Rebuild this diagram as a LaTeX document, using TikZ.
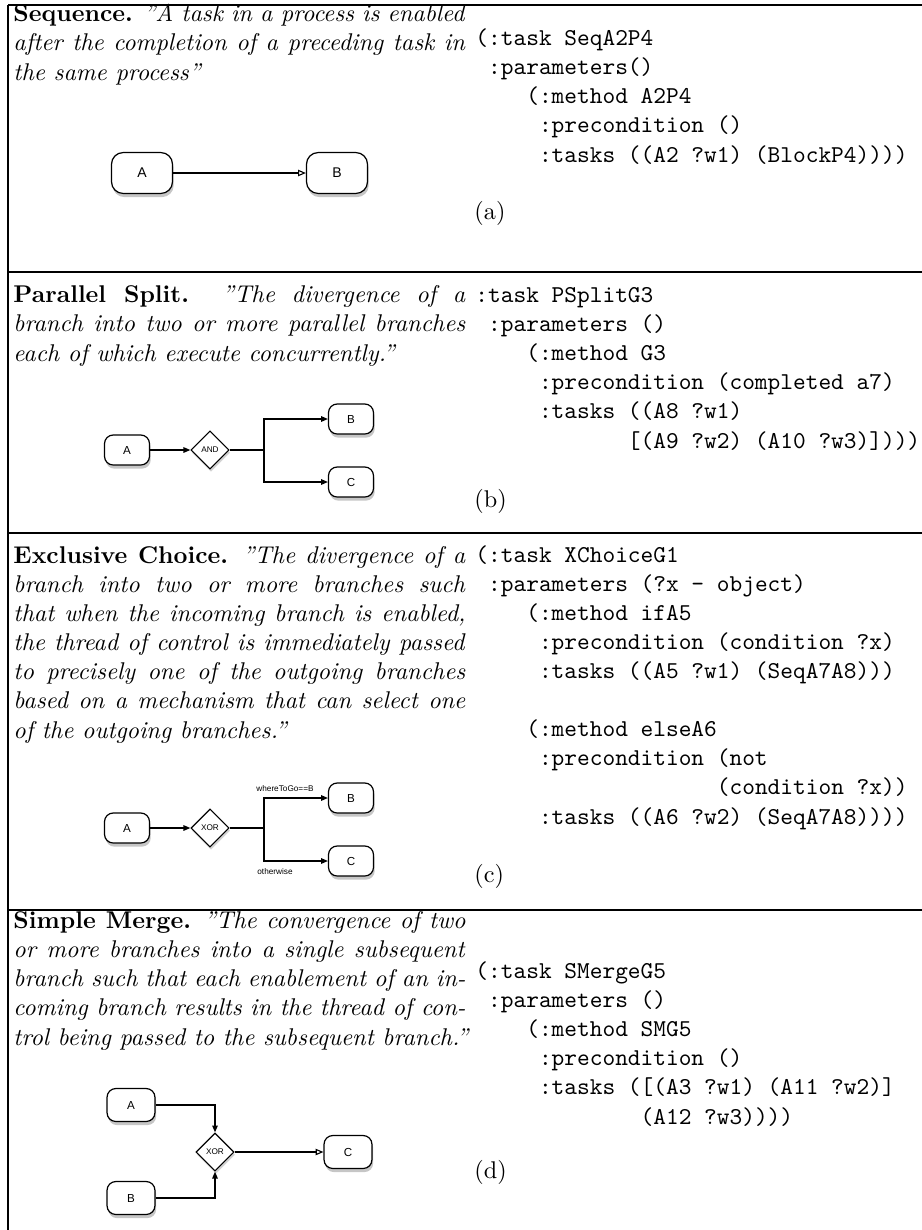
\documentclass[tikz,border=0pt]{standalone}
\usepackage{fontspec}
\newfontfamily\diafont{Liberation Sans}
\usetikzlibrary{shapes.geometric}
\usetikzlibrary{arrows.meta}
\usetikzlibrary{shadows}
\newdimen\pxu \pxu=0.4132pt
\newdimen\colw \colw=186.8pt
\newcommand\ind[1]{\hspace*{#1\fontcharwd\font`x}}
\newcommand\jline[1]{\makebox[\colw][s]{#1}}
\tikzset{
  desc/.style={anchor=base west,align=left,inner sep=0pt},
  code/.style={anchor=base west,align=left,inner sep=0pt,font=\ttfamily},
  sublabel/.style={anchor=base west,inner sep=0pt},
  task/.style={draw,line width=0.5pt,fill=white,rounded corners=3.6pt,
    minimum width=18.6pt,minimum height=12.4pt,inner sep=0pt,
    font=\diafont\fontsize{4.8}{5}\selectfont,
    drop shadow={opacity=0.45,shadow xshift=0.5pt,shadow yshift=-1.5pt}},
  bigtask/.style={task,rounded corners=4.8pt,minimum width=25.2pt,
    minimum height=16.9pt,font=\diafont\fontsize{5.8}{6}\selectfont},
  midtask/.style={task,minimum width=19.8pt,minimum height=13.6pt},
  gate/.style={draw,diamond,aspect=1,line width=0.5pt,fill=white,
    minimum size=15.8pt,inner sep=0pt,font=\diafont\fontsize{3.4}{4}\selectfont,
    drop shadow={opacity=0.35,shadow xshift=0.4pt,shadow yshift=-1.1pt}},
  cond/.style={inner sep=0pt,font=\diafont\fontsize{3.4}{4}\selectfont},
  flow/.style={line width=0.45pt,-{Triangle[length=2.8pt,width=2.3pt]}},
  openflow/.style={line width=0.45pt,-{Triangle[open,length=3.2pt,width=2.6pt]}},
  rule/.style={line width=0.5pt}
}
\begin{document}
\begin{tikzpicture}[x=\pxu,y=-\pxu]
\useasboundingbox (0,0) rectangle (922,1230);
% table rules
\draw[rule] (8,5) -- (922,5);
\draw[rule] (8,272) -- (922,272);
\draw[rule] (8,533) -- (922,533);
\draw[rule] (8,910) -- (922,910);
\draw[rule] (8,5) -- (8,1230);

% (a) sequence -- nodes sit on the baseline of their last line
\node[desc] (seqText) at (13,80) {\jline{\textbf{Sequence.} \textit{''A task in a process is enabled}}\\
  \jline{\textit{after the completion of a preceding task in}}\\
  \textit{the same process''}};
\node[bigtask] (seqA) at (142,173) {A};
\node[bigtask] (seqB) at (337,173) {B};
\draw[openflow] (seqA) -- (seqB);
\node[code] (seqCode) at (475,162) {(:task SeqA2P4\\
  \ind{1}:parameters()\\
  \ind{4}(:method A2P4\\
  \ind{5}:precondition ()\\
  \ind{5}:tasks ((A2 ?w1) (BlockP4))))};
\node[sublabel] (seqLab) at (474,219) {(a)};

% (b) parallel split
\node[desc] (psText) at (13,361) {\jline{\textbf{Parallel Split.} \textit{''The divergence of a}}\\
  \jline{\textit{branch into two or more parallel branches}}\\
  \textit{each of which execute concurrently.''}};
\node[task] (psA) at (127,450) {A};
\node[gate] (psAnd) at (210,450) {AND};
\node[task] (psB) at (351,419) {B};
\node[task] (psC) at (351,482) {C};
\coordinate (psSplit) at (264,450);
\draw[flow] (psA) -- (psAnd);
\draw[line width=0.45pt] (psAnd) -- (psSplit);
\draw[flow] (psSplit) |- (psB);
\draw[flow] (psSplit) |- (psC);
\node[code] (psCode) at (475,448) {:task PSplitG3\\
  \ind{1}:parameters ()\\
  \ind{4}(:method G3\\
  \ind{5}:precondition (completed a7)\\
  \ind{5}:tasks ((A8 ?w1)\\
  \ind{12}[(A9 ?w2) (A10 ?w3)])))};
\node[sublabel] (psLab) at (474,507) {(b)};

% (c) exclusive choice
\node[desc] (xcText) at (13,738) {\jline{\textbf{Exclusive Choice.} \textit{''The divergence of a}}\\
  \jline{\textit{branch into two or more branches such}}\\
  \jline{\textit{that when the incoming branch is enabled,}}\\
  \jline{\textit{the thread of control is immediately passed}}\\
  \jline{\textit{to precisely one of the outgoing branches}}\\
  \jline{\textit{based on a mechanism that can select one}}\\
  \textit{of the outgoing branches.''}};
\node[task] (xcA) at (127,828) {A};
\node[gate] (xcXor) at (210,828) {XOR};
\node[task] (xcB) at (351,798) {B};
\node[task] (xcC) at (351,861) {C};
\coordinate (xcSplit) at (264,828);
\draw[flow] (xcA) -- (xcXor);
\draw[line width=0.45pt] (xcXor) -- (xcSplit);
\draw[flow] (xcSplit) |- (xcB);
\draw[flow] (xcSplit) |- (xcC);
\node[cond] (xcYes) at (285,789) {whereToGo==B};
\node[cond] (xcNo) at (275,872) {otherwise};
\node[code] (xcCode) at (475,824) {(:task XChoiceG1\\
  \ind{1}:parameters (?x - object)\\
  \ind{4}(:method ifA5\\
  \ind{5}:precondition (condition ?x)\\
  \ind{5}:tasks ((A5 ?w1) (SeqA7A8)))\\
  \mbox{}\\
  \ind{4}(:method elseA6\\
  \ind{5}:precondition (not\\
  \ind{19}(condition ?x))\\
  \ind{5}:tasks ((A6 ?w2) (SeqA7A8))))};
\node[sublabel] (xcLab) at (474,882) {(c)};

% (d) simple merge
\node[desc] (smText) at (13,1045) {\jline{\textbf{Simple Merge.} \textit{''The convergence of two}}\\
  \jline{\textit{or more branches into a single subsequent}}\\
  \jline{\textit{branch such that each enablement of an in-}}\\
  \jline{\textit{coming branch results in the thread of con-}}\\
  \textit{trol being passed to the subsequent branch.''}};
\node[midtask] (smA) at (131,1105) {A};
\node[midtask] (smB) at (131,1198) {B};
\node[gate] (smXor) at (215,1152) {XOR};
\node[midtask] (smC) at (348,1152) {C};
\draw[flow] (smA) -| (smXor);
\draw[flow] (smB) -| (smXor);
\draw[openflow] (smXor) -- (smC);
\node[code] (smCode) at (475,1124) {(:task SMergeG5\\
  \ind{1}:parameters ()\\
  \ind{4}(:method SMG5\\
  \ind{5}:precondition ()\\
  \ind{5}:tasks ([(A3 ?w1) (A11 ?w2)]\\
  \ind{13}(A12 ?w3))))};
\node[sublabel] (smLab) at (474,1178) {(d)};
\end{tikzpicture}
\end{document}
